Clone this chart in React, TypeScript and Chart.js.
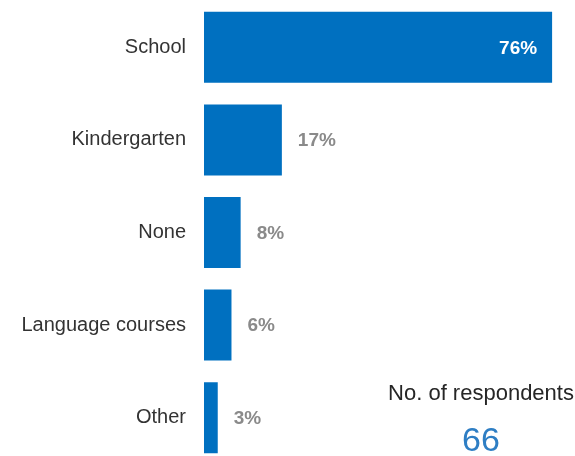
import React, { useEffect, useRef } from "react";
import { Chart, registerables } from "chart.js";

Chart.register(...registerables);

const categories = ["School", "Kindergarten", "None", "Language courses", "Other"];
const values = [76, 17, 8, 6, 3];
const valueLabels = ["76%", "17%", "8%", "6%", "3%"];
const respondentsTitle = "No. of respondents";
const respondentsCount = "66";

const FONT = "'Liberation Sans', Arial, sans-serif";

const labelPlugin = {
  id: "valueLabels",
  afterDatasetsDraw(chart: any) {
    const ctx = chart.ctx;
    const meta = chart.getDatasetMeta(0);
    ctx.save();
    ctx.textBaseline = "middle";
    meta.data.forEach((bar: any, i: number) => {
      const inside = i === 0;
      ctx.font = `bold 19px ${FONT}`;
      if (inside) {
        ctx.fillStyle = "#ffffff";
        ctx.textAlign = "right";
        ctx.fillText(valueLabels[i], bar.x - 15, bar.y + 1);
      } else {
        ctx.fillStyle = "#8a8a8a";
        ctx.textAlign = "left";
        ctx.fillText(valueLabels[i], bar.x + 16, bar.y + 1);
      }
    });
    ctx.textAlign = "center";
    ctx.fillStyle = "#262626";
    ctx.font = `22px ${FONT}`;
    ctx.fillText(respondentsTitle, 481, 394);
    ctx.fillStyle = "#2e7ec4";
    ctx.font = `34px ${FONT}`;
    ctx.fillText(respondentsCount, 481, 442);
    ctx.restore();
  },
};

export default function App() {
  const ref = useRef<HTMLCanvasElement>(null);
  useEffect(() => {
    if (!ref.current) return;
    const chart = new Chart(ref.current, {
      type: "bar",
      data: {
        labels: categories,
        datasets: [
          {
            data: values,
            backgroundColor: "#0070c0",
            borderWidth: 0,
            categoryPercentage: 1,
            barPercentage: 0.767,
          },
        ],
      },
      options: {
        indexAxis: "y",
        animation: false,
        responsive: false,
        maintainAspectRatio: false,
        layout: { padding: { top: 1, bottom: 2, left: 0, right: 0 } },
        plugins: { legend: { display: false }, tooltip: { enabled: false } },
        scales: {
          x: { display: false, min: 0, max: 81 },
          y: {
            grid: { display: false, drawTicks: false },
            border: { display: false },
            ticks: {
              padding: 18,
              color: "#333333",
              font: { family: FONT, size: 20 },
            },
            afterFit: (s: any) => {
              s.width = 204;
              s.paddingTop = 0;
              s.paddingBottom = 0;
            },
          },
        },
      },
      plugins: [labelPlugin],
    });
    return () => chart.destroy();
  }, []);
  return (
    <div
      style={{
        position: "fixed",
        top: 0,
        left: 0,
        width: 575,
        height: 456,
        overflow: "hidden",
        background: "#fff",
      }}
    >
      <canvas ref={ref} width={575} height={466} style={{ display: "block" }} />
    </div>
  );
}
